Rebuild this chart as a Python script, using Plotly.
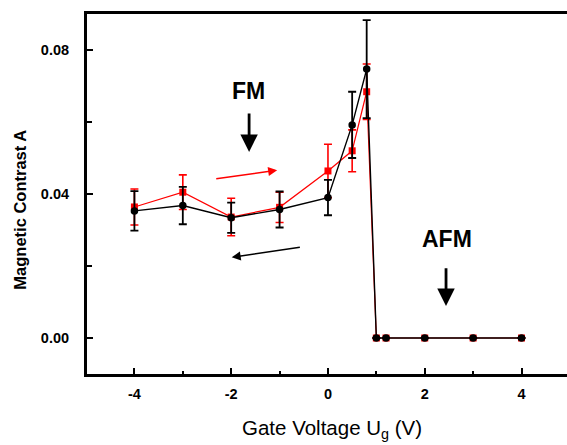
import plotly.graph_objects as go

# Sweep towards negative gate voltage (black, circles)
down_v = [-4, -3, -2, -1, 0, 0.5, 0.8, 1.0, 1.2, 2, 3, 4]
down_a = [0.0353, 0.0368, 0.0334, 0.0357, 0.0390, 0.0592, 0.0747, 0.0, 0.0, 0.0, 0.0, 0.0]
down_err = [0.0055, 0.0052, 0.0042, 0.0050, 0.0049, 0.0092, 0.0136, 0, 0, 0, 0, 0]

# Sweep towards positive gate voltage (red, squares)
up_v = [-4, -3, -2, -1, 0, 0.5, 0.8, 1.0, 1.2, 2, 3, 4]
up_a = [0.0364, 0.0405, 0.0336, 0.0363, 0.0464, 0.0520, 0.0684, 0.0, 0.0, 0.0, 0.0, 0.0]
up_err = [0.0050, 0.0048, 0.0052, 0.0042, 0.0074, 0.0058, 0.0077, 0, 0, 0, 0, 0]

x_tick_step = 2
y_ticks = [0.0, 0.04, 0.08]
y_tick_text = ["0.00", "0.04", "0.08"]

FONT = "Liberation Sans, Arial, sans-serif"

fig = go.Figure()

fig.add_trace(go.Scatter(
    x=up_v, y=up_a, mode="lines+markers",
    line=dict(color="#ff0000", width=1.2),
    marker=dict(symbol="square", size=7, color="#ff0000"),
    error_y=dict(type="data", array=up_err, visible=True,
                 color="#ff0000", thickness=1.6, width=4),
    showlegend=False,
))

fig.add_trace(go.Scatter(
    x=down_v, y=down_a, mode="lines+markers",
    line=dict(color="#000000", width=1.4),
    marker=dict(symbol="circle", size=7.5, color="#000000"),
    error_y=dict(type="data", array=down_err, visible=True,
                 color="#000000", thickness=1.8, width=4),
    showlegend=False,
))

annotations = [
    # phase labels
    dict(x=-1.65, y=0.0685, xref="x", yref="y", text="<b>FM</b>",
         xanchor="center", yanchor="middle",
         showarrow=False, font=dict(family=FONT, size=23, color="#000")),
    dict(x=2.46, y=0.0275, xref="x", yref="y", text="<b>AFM</b>",
         xanchor="center", yanchor="middle",
         showarrow=False, font=dict(family=FONT, size=23, color="#000")),
    # downward arrows under the phase labels
    dict(x=-1.63, y=0.0517, ax=-1.63, ay=0.0628, xref="x", yref="y",
         axref="x", ayref="y", text="", showarrow=True, arrowhead=2,
         arrowsize=1.25, arrowwidth=2.8, arrowcolor="#000"),
    dict(x=2.44, y=0.0089, ax=2.44, ay=0.0198, xref="x", yref="y",
         axref="x", ayref="y", text="", showarrow=True, arrowhead=2,
         arrowsize=1.25, arrowwidth=2.8, arrowcolor="#000"),
    # sweep direction arrows
    dict(x=-1.05, y=0.0466, ax=-2.34, ay=0.0442, xref="x", yref="y",
         axref="x", ayref="y", text="", showarrow=True, arrowhead=2,
         arrowsize=1.2, arrowwidth=1.5, arrowcolor="#ff0000"),
    dict(x=-1.99, y=0.0224, ax=-0.55, ay=0.0253, xref="x", yref="y",
         axref="x", ayref="y", text="", showarrow=True, arrowhead=2,
         arrowsize=1.2, arrowwidth=1.5, arrowcolor="#000"),
    # axis titles
    dict(x=-0.14, y=0.456, xref="paper", yref="paper", textangle=-90,
         xanchor="center", yanchor="middle",
         text="<b>Magnetic Contrast A</b>", showarrow=False,
         font=dict(family=FONT, size=16.5, color="#000")),
    dict(x=0.51, y=-0.153, xref="paper", yref="paper",
         xanchor="center", yanchor="middle",
         text="Gate Voltage U<sub>g</sub> (V)", showarrow=False,
         font=dict(family=FONT, size=20.5, color="#000")),
]

fig.update_layout(
    width=567, height=445,
    margin=dict(l=87, r=0, t=14, b=71),
    paper_bgcolor="white", plot_bgcolor="white",
    annotations=annotations,
    font=dict(family=FONT, color="#000"),
)

fig.update_xaxes(
    range=[-4.98, 4.94], tickmode="linear", tick0=0, dtick=x_tick_step,
    labelalias={"\u22124": "-4", "\u22122": "-2"},
    ticks="inside", ticklen=6, tickwidth=2, tickcolor="#000",
    minor=dict(dtick=1, tick0=1, ticks="inside", ticklen=3, tickwidth=2, tickcolor="#000"),
    showline=True, linewidth=3, linecolor="#000", mirror=True,
    showgrid=False, zeroline=False,
    tickfont=dict(family=FONT, size=14.5, color="#000", weight="bold"),
    ticklabelstandoff=5,
)

fig.update_yaxes(
    range=[-0.01, 0.09], tickvals=y_ticks, ticktext=y_tick_text,
    ticks="inside", ticklen=6, tickwidth=2, tickcolor="#000",
    minor=dict(tickvals=[0.02, 0.06], ticks="inside", ticklen=5, tickwidth=2, tickcolor="#000"),
    showline=True, linewidth=3, linecolor="#000", mirror=False,
    showgrid=False, zeroline=False,
    tickfont=dict(family=FONT, size=14.5, color="#000", weight="bold"),
    ticklabelstandoff=12,
)

fig.write_html("out.html")
